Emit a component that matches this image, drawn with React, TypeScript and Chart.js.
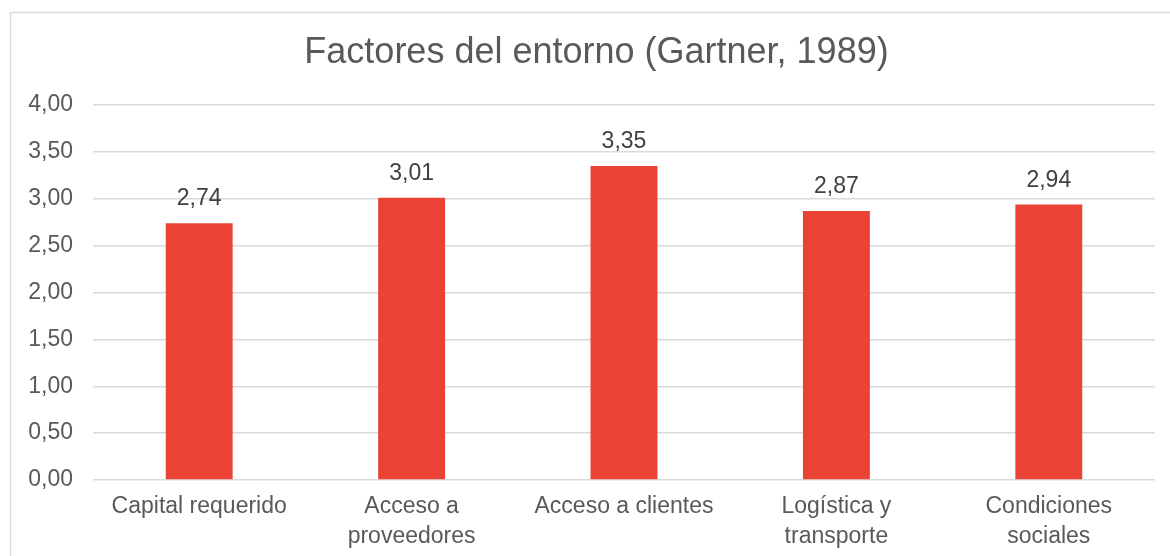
import React, { useEffect, useRef } from "react";
import { Chart, registerables } from "chart.js";

Chart.register(...registerables);

const categories: (string | string[])[] = [
  "Capital requerido",
  ["Acceso a", "proveedores"],
  "Acceso a clientes",
  ["Logística y", "transporte"],
  ["Condiciones", "sociales"],
];
const values: number[] = [2.74, 3.01, 3.35, 2.87, 2.94];
const yTicksMin = 0;
const yTicksMax = 4;
const yTickStep = 0.5;
const titleText = "Factores del entorno (Gartner, 1989)";

const FONT = "'Liberation Sans', Arial, sans-serif";
const fmt = (v: number) => v.toFixed(2).replace(".", ",");

const framePlugin = {
  id: "frame",
  beforeDraw(chart: any) {
    const ctx = chart.ctx;
    ctx.save();
    ctx.fillStyle = "#ffffff";
    ctx.fillRect(0, 0, chart.width, chart.height);
    ctx.strokeStyle = "#d9d9d9";
    ctx.lineWidth = 1.5;
    ctx.strokeRect(10.5, 12.5, 3000, 3000);
    ctx.font = `36px ${FONT}`;
    ctx.fillStyle = "#595959";
    ctx.textAlign = "center";
    ctx.textBaseline = "alphabetic";
    ctx.fillText(titleText, 596.5, 63);
    ctx.restore();
  },
};

const labelPlugin = {
  id: "barLabels",
  afterDatasetsDraw(chart: any) {
    const ctx = chart.ctx;
    const meta = chart.getDatasetMeta(0);
    ctx.save();
    ctx.font = `23px ${FONT}`;
    ctx.fillStyle = "#404040";
    ctx.textAlign = "center";
    ctx.textBaseline = "middle";
    meta.data.forEach((el: any, i: number) => {
      ctx.fillText(fmt(values[i]), el.x, el.y - 24);
    });
    ctx.restore();
  },
};

export default function App() {
  const ref = useRef<HTMLCanvasElement>(null);
  useEffect(() => {
    if (!ref.current) return;
    const chart = new Chart(ref.current, {
      type: "bar",
      data: {
        labels: categories as any,
        datasets: [
          {
            data: values,
            backgroundColor: "#EA4335",
            barPercentage: 0.315,
            categoryPercentage: 1,
          },
        ],
      },
      options: {
        responsive: false,
        animation: false,
        layout: { padding: { left: 0, right: 15, top: 105, bottom: 0 } },
        plugins: {
          legend: { display: false },
          tooltip: { enabled: false },
          title: { display: false },
        },
        scales: {
          x: {
            grid: { display: false, drawTicks: false },
            border: { display: false },
            ticks: {
              color: "#595959",
              font: { family: FONT, size: 23, lineHeight: 1.304 },
              padding: 12,
              maxRotation: 0,
              autoSkip: false,
            },
            afterFit(scale: any) {
              scale.height = 76;
            },
          },
          y: {
            min: yTicksMin,
            max: yTicksMax,
            grid: { color: "#d9d9d9", lineWidth: 1.5, drawTicks: false },
            border: { display: false },
            ticks: {
              stepSize: yTickStep,
              color: "#595959",
              font: { family: FONT, size: 23 },
              padding: 20,
              callback: (v: any) => fmt(Number(v)),
            },
            afterFit(scale: any) {
              scale.width = 93;
            },
          },
        },
      },
      plugins: [framePlugin, labelPlugin],
    });
    return () => chart.destroy();
  }, []);
  return (
    <div style={{ position: "fixed", left: 0, top: 0, width: 1170, height: 556 }}>
      <canvas ref={ref} width={1170} height={556} />
    </div>
  );
}
